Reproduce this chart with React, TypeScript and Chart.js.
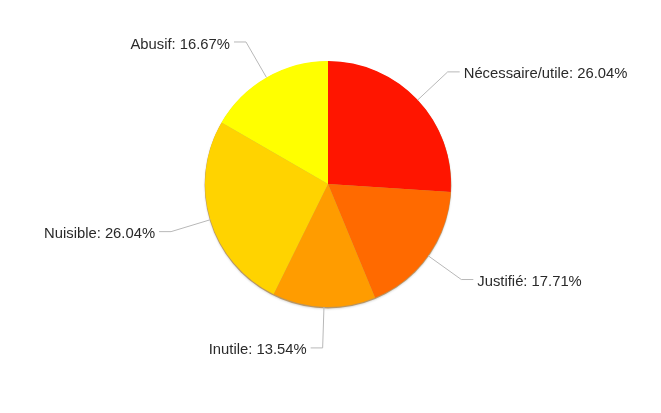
import React, { useRef, useEffect } from 'react';
import { Chart, PieController, ArcElement } from 'chart.js';

Chart.register(PieController, ArcElement);

const labels = ['Nécessaire/utile', 'Justifié', 'Inutile', 'Nuisible', 'Abusif'];
const values = [26.04, 17.71, 13.54, 26.04, 16.67];
const colors = ['#FF1500', '#FF6A00', '#FF9C00', '#FFD300', '#FFFF00'];

// draws a soft darker rim under the pie
const rimPlugin = {
  id: 'rim',
  beforeDatasetsDraw(chart: any) {
    const arc = chart.getDatasetMeta(0).data[0];
    if (!arc) return;
    const ctx = chart.ctx;
    ctx.save();
    ctx.beginPath();
    ctx.arc(arc.x, arc.y + 1, arc.outerRadius + 0.4, 0, Math.PI * 2);
    ctx.fillStyle = 'rgba(150, 90, 0, 0.55)';
    ctx.shadowColor = 'rgba(0, 0, 0, 0.25)';
    ctx.shadowBlur = 2;
    ctx.shadowOffsetY = 1;
    ctx.fill();
    ctx.restore();
  },
};

// labels with bent leader lines
const calloutPlugin = {
  id: 'callouts',
  afterDatasetsDraw(chart: any) {
    const ctx = chart.ctx;
    const meta = chart.getDatasetMeta(0);
    const data = chart.data.datasets[0].data as number[];
    const total = data.reduce((a, b) => a + b, 0);
    ctx.save();
    ctx.font = '14.8px "Liberation Sans", Arial, sans-serif';
    ctx.textBaseline = 'middle';
    meta.data.forEach((arc: any, i: number) => {
      const a = (arc.startAngle + arc.endAngle) / 2;
      const r = arc.outerRadius;
      const cos = Math.cos(a);
      const sin = Math.sin(a);
      const x0 = arc.x + cos * r;
      const y0 = arc.y + sin * r;
      const x1 = arc.x + cos * (r + 41);
      const y1 = arc.y + sin * (r + 41);
      const right = cos >= 0;
      const x2 = x1 + (right ? 12 : -12);
      ctx.beginPath();
      ctx.moveTo(x0, y0);
      ctx.lineTo(x1, y1);
      ctx.lineTo(x2, y1);
      ctx.strokeStyle = '#b8b8b8';
      ctx.lineWidth = 1;
      ctx.stroke();
      const pct = ((data[i] / total) * 100).toFixed(2);
      ctx.fillStyle = '#2a2a2a';
      ctx.textAlign = right ? 'left' : 'right';
      ctx.fillText(`${chart.data.labels[i]}: ${pct}%`, x2 + (right ? 4 : -4), y1 + 2.5);
    });
    ctx.restore();
  },
};

const App: React.FC = () => {
  const chartRef = useRef<HTMLCanvasElement>(null);

  useEffect(() => {
    if (!chartRef.current) return;
    const chart = new Chart(chartRef.current, {
      type: 'pie',
      data: {
        labels,
        datasets: [{
          data: values,
          backgroundColor: colors,
          borderWidth: 0,
        }],
      },
      options: {
        animation: false,
        responsive: true,
        maintainAspectRatio: false,
        layout: { padding: { top: 61, bottom: 106, left: 205, right: 210 } },
        plugins: {
          legend: { display: false },
          tooltip: { enabled: false },
        },
      },
      plugins: [rimPlugin, calloutPlugin],
    });
    return () => chart.destroy();
  }, []);

  return (
    <div style={{ position: 'absolute', left: 0, top: 0, width: 661, height: 413, background: '#fff' }}>
      <canvas ref={chartRef} />
    </div>
  );
};

export default App;
